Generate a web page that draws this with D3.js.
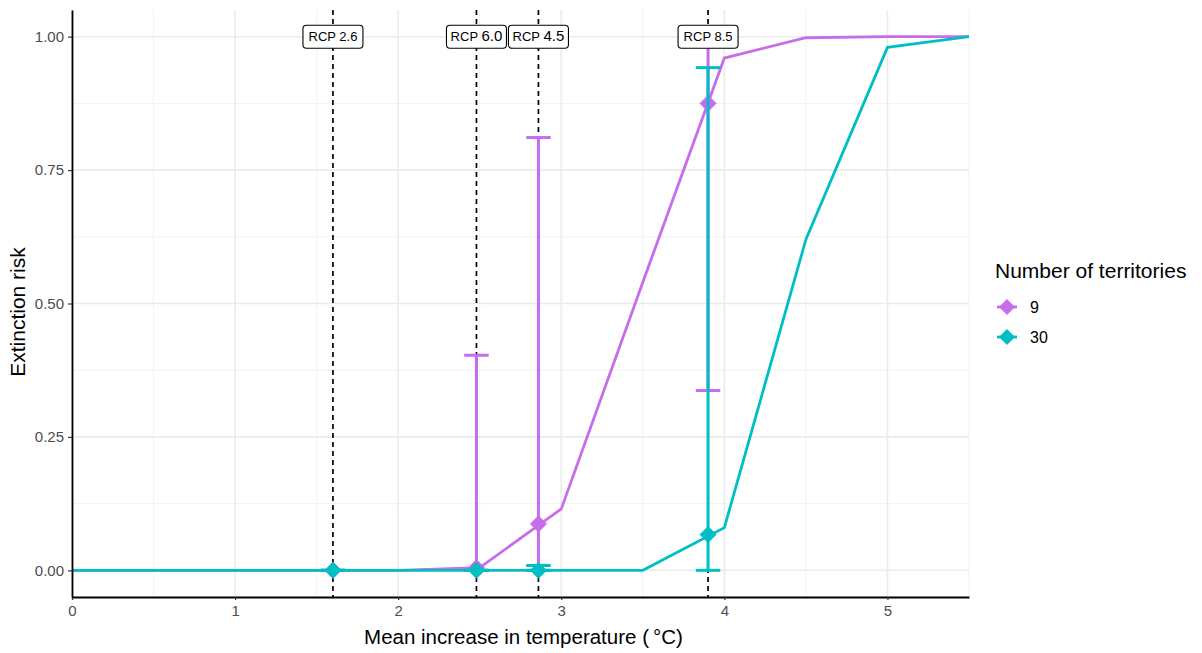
<!DOCTYPE html>
<html>
<head>
<meta charset="utf-8">
<script src="https://cdn.jsdelivr.net/npm/d3@7"></script>
<style>
  body { margin: 0; background: #fff; }
  text { font-family: "Liberation Sans", Arial, sans-serif; }
</style>
</head>
<body>
<svg id="chart"></svg>
<script>
// curve data (risk vs mean temperature increase)
const temps = [0, 0.5, 1, 1.5, 2, 2.5, 3, 3.5, 4, 4.5, 5, 5.5];
const risk9 = [0, 0, 0, 0, 0, 0.005, 0.115, 0.54, 0.96, 0.998, 1, 1];
const risk30 = [0, 0, 0, 0, 0, 0, 0, 0, 0.08, 0.62, 0.98, 1];

// RCP scenarios
const rcpLabels = ['RCP 2.6', 'RCP 6.0', 'RCP 4.5', 'RCP 8.5'];
const rcpTemps = [1.6, 2.48, 2.86, 3.9];
const mean9 = [0, 0.005, 0.087, 0.875];
const lo9 = [0, 0, 0, 0.337];
const hi9 = [0, 0.403, 0.811, 1];
const mean30 = [0, 0, 0, 0.067];
const lo30 = [0, 0, 0, 0];
const hi30 = [0, 0, 0.009, 0.942];

const groups = ['9', '30'];
const xTicks = [0, 1, 2, 3, 4, 5];
const yTicks = [0, 0.25, 0.5, 0.75, 1];

const width = 1202, height = 653;
const margin = {top: 10, right: 233, bottom: 56, left: 72};
const color = d3.scaleOrdinal().domain(groups).range(['#C86CEC', '#00BFC4']);

const svg = d3.select('#chart').attr('width', width).attr('height', height);

const x = d3.scaleLinear().domain([0, 5.5]).range([margin.left, width - margin.right]);
const y = d3.scaleLinear().domain([-0.05, 1.05]).range([height - margin.bottom, margin.top]);

// grid
const grid = svg.append('g');
grid.selectAll('.xminor').data(d3.range(0.5, 5.6, 1)).enter().append('line')
  .attr('x1', d => x(d)).attr('x2', d => x(d)).attr('y1', y.range()[0]).attr('y2', y.range()[1])
  .attr('stroke', '#f2f2f2').attr('stroke-width', 1);
grid.selectAll('.yminor').data(d3.range(0.125, 1, 0.25)).enter().append('line')
  .attr('x1', x.range()[0]).attr('x2', x.range()[1]).attr('y1', d => y(d)).attr('y2', d => y(d))
  .attr('stroke', '#f2f2f2').attr('stroke-width', 1);
grid.selectAll('.xmajor').data(xTicks).enter().append('line')
  .attr('x1', d => x(d)).attr('x2', d => x(d)).attr('y1', y.range()[0]).attr('y2', y.range()[1])
  .attr('stroke', '#ebebeb').attr('stroke-width', 1.6);
grid.selectAll('.ymajor').data(yTicks).enter().append('line')
  .attr('x1', x.range()[0]).attr('x2', x.range()[1]).attr('y1', d => y(d)).attr('y2', d => y(d))
  .attr('stroke', '#ebebeb').attr('stroke-width', 1.6);

// rcp vertical lines
svg.append('g').selectAll('line').data(rcpTemps).enter().append('line')
  .attr('x1', d => x(d)).attr('x2', d => x(d))
  .attr('y1', y.range()[1]).attr('y2', y.range()[0])
  .attr('stroke', '#000').attr('stroke-width', 1.7).attr('stroke-dasharray', '5,4');

// series
const curves = {'9': risk9, '30': risk30};
const points = {'9': [mean9, lo9, hi9], '30': [mean30, lo30, hi30]};
const line = d3.line().x(d => x(d[0])).y(d => y(d[1]));
const diamond = 'M0,-8L8,0L0,8L-8,0Z';
const capHalf = (x(0.075) - x(0));

groups.forEach(g => {
  const c = color(g);
  const layer = svg.append('g');
  layer.append('path')
    .datum(temps.map((t, i) => [t, curves[g][i]]))
    .attr('d', line).attr('fill', 'none').attr('stroke', c).attr('stroke-width', 2.8);
  const [m, lo, hi] = points[g];
  const pts = rcpTemps.map((t, i) => ({t, m: m[i], lo: lo[i], hi: hi[i]}));
  layer.selectAll('.pt').data(pts).enter().append('path')
    .attr('d', diamond).attr('transform', d => `translate(${x(d.t)},${y(d.m)})`)
    .attr('fill', c).attr('stroke', c).attr('stroke-width', 1).attr('stroke-linejoin', 'round');
  const eb = layer.selectAll('.eb').data(pts).enter().append('g').attr('stroke', c).attr('stroke-width', 3);
  eb.append('line').attr('x1', d => x(d.t)).attr('x2', d => x(d.t)).attr('y1', d => y(d.lo)).attr('y2', d => y(d.hi));
  eb.append('line').attr('x1', d => x(d.t) - capHalf).attr('x2', d => x(d.t) + capHalf).attr('y1', d => y(d.lo)).attr('y2', d => y(d.lo));
  eb.append('line').attr('x1', d => x(d.t) - capHalf).attr('x2', d => x(d.t) + capHalf).attr('y1', d => y(d.hi)).attr('y2', d => y(d.hi));
});

// rcp labels
const lab = svg.append('g').selectAll('g').data(rcpLabels).enter().append('g')
  .attr('transform', (d, i) => `translate(${x(rcpTemps[i])},${y(1)})`);
lab.append('rect').attr('x', -30).attr('y', -11.5).attr('width', 60).attr('height', 23).attr('rx', 3.5)
  .attr('fill', '#fff').attr('stroke', '#000').attr('stroke-width', 1.1);
const lt = lab.append('text').attr('text-anchor', 'middle').attr('dy', '0.36em').attr('font-size', 13).attr('fill', '#000');
lt.append('tspan').text(d => d.split(' ')[0] + ' ');
lt.append('tspan').attr('font-size', (d, i) => (i === 1 || i === 2) ? 15 : 13).text(d => d.split(' ')[1]);

// axes
const xAxis = svg.append('g').attr('transform', `translate(0,${y.range()[0]})`)
  .call(d3.axisBottom(x).tickValues(xTicks).tickFormat(d3.format('d')).tickSize(3).tickSizeOuter(0));
const yAxis = svg.append('g').attr('transform', `translate(${margin.left},0)`)
  .call(d3.axisLeft(y).tickValues(yTicks).tickFormat(d3.format('.2f')).tickSize(4).tickSizeOuter(0));
[xAxis, yAxis].forEach(a => {
  a.select('.domain').attr('stroke', '#000').attr('stroke-width', 1.8);
  a.selectAll('.tick line').attr('stroke', '#333').attr('stroke-width', 1.2);
  a.selectAll('.tick text').attr('fill', '#4d4d4d').attr('font-size', 15)
    .style('font-family', '"Liberation Sans", Arial, sans-serif');
});
xAxis.selectAll('.tick text').attr('dy', '0.85em');
yAxis.selectAll('.tick text').attr('x', -8);

// axis titles
svg.append('text').attr('x', (x.range()[0] + x.range()[1]) / 2 + 3).attr('y', 644)
  .attr('text-anchor', 'middle').attr('font-size', 20.5).text('Mean increase in temperature (\u2009°C)');
svg.append('text').attr('transform', `translate(25,312) rotate(-90)`)
  .attr('text-anchor', 'middle').attr('font-size', 21).text('Extinction risk');

// legend
const legend = svg.append('g').attr('transform', 'translate(995,278)');
legend.append('text').attr('font-size', 21).text('Number of territories');
const item = legend.selectAll('.item').data(groups).enter().append('g')
  .attr('transform', (d, i) => `translate(12,${29 + i * 30})`);
item.append('line').attr('x1', -10).attr('x2', 10).attr('stroke', d => color(d)).attr('stroke-width', 2.8);
item.append('path').attr('d', diamond).attr('fill', d => color(d));
item.append('text').attr('x', 23).attr('dy', '0.35em').attr('font-size', 16).text(d => d);
</script>
</body>
</html>
